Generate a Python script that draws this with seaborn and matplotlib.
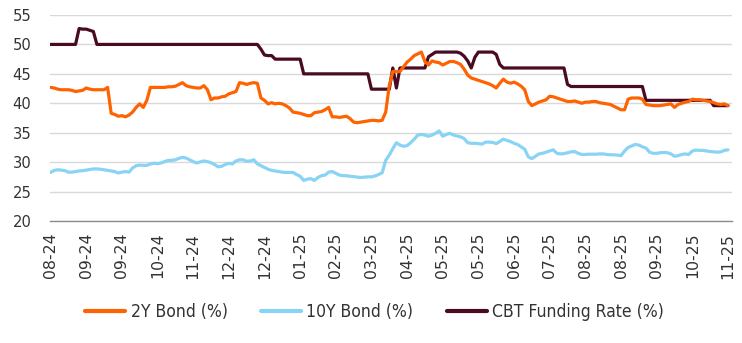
import numpy as np
import pandas as pd
import matplotlib
matplotlib.use("Agg")
import matplotlib.pyplot as plt
from matplotlib import font_manager
import seaborn as sns

# ---------------- data ----------------
tick_labels = ["08-24", "09-24", "09-24", "10-24", "11-24", "12-24", "12-24",
               "01-25", "02-25", "03-25", "04-25", "05-25", "05-25", "06-25",
               "07-25", "08-25", "08-25", "09-25", "10-25", "11-25"]
points_per_tick = 10

bond_2y = [
    42.7, 42.6, 42.4, 42.3, 42.3, 42.3, 42.2, 42.0, 42.1, 42.2,
    42.6, 42.4, 42.3, 42.3, 42.3, 42.3, 42.7, 38.3, 38.1, 37.8,
    37.9, 37.7, 38.0, 38.5, 39.3, 39.9, 39.3, 40.5, 42.7, 42.7,
    42.7, 42.7, 42.7, 42.8, 42.8, 42.9, 43.2, 43.5, 43.0, 42.8,
    42.7, 42.6, 42.6, 43.0, 42.3, 40.6, 40.9, 40.9, 41.1, 41.2,
    41.6, 41.8, 42.0, 43.5, 43.4, 43.2, 43.4, 43.5, 43.4, 40.9,
    40.5, 39.9, 40.1, 39.9, 40.0, 39.9, 39.6, 39.2, 38.5, 38.4,
    38.3, 38.1, 37.9, 37.9, 38.4, 38.5, 38.6, 38.9, 39.3, 37.7,
    37.7, 37.6, 37.7, 37.8, 37.4, 36.8, 36.7, 36.8, 36.9, 37.0,
    37.1, 37.1, 37.0, 37.1, 38.5, 43.0, 45.4, 45.4, 45.4, 46.2,
    47.0, 47.5, 48.1, 48.4, 48.7, 47.1, 46.5, 47.2, 47.0, 46.9,
    46.5, 46.8, 47.1, 47.1, 46.9, 46.6, 45.8, 44.8, 44.3, 44.1,
    43.9, 43.7, 43.5, 43.3, 43.0, 42.6, 43.4, 44.1, 43.6, 43.4,
    43.6, 43.3, 42.9, 42.3, 40.3, 39.6, 39.9, 40.2, 40.4, 40.6,
    41.2, 41.1, 40.9, 40.7, 40.5, 40.3, 40.3, 40.4, 40.2, 40.0,
    40.2, 40.2, 40.3, 40.3, 40.1, 40.0, 39.9, 39.8, 39.5, 39.2,
    38.9, 38.9, 40.7, 40.9, 40.9, 40.9, 40.7, 39.8, 39.7, 39.6,
    39.6, 39.6, 39.7, 39.8, 39.9, 39.3, 39.8, 40.0, 40.2, 40.3,
    40.7, 40.6, 40.6, 40.5, 40.4, 40.3, 40.1, 39.9, 39.8, 39.9,
    39.6,
]

bond_10y = [
    28.25, 28.6, 28.7, 28.65, 28.55, 28.3, 28.3, 28.4, 28.5, 28.55,
    28.65, 28.75, 28.85, 28.85, 28.8, 28.7, 28.6, 28.5, 28.4, 28.15,
    28.3, 28.4, 28.3, 29.0, 29.4, 29.5, 29.45, 29.45, 29.7, 29.8,
    29.75, 29.85, 30.1, 30.3, 30.3, 30.4, 30.65, 30.8, 30.7, 30.4,
    30.1, 29.85, 30.05, 30.2, 30.1, 29.9, 29.6, 29.2, 29.3, 29.6,
    29.8, 29.7, 30.2, 30.4, 30.4, 30.15, 30.2, 30.4, 29.7, 29.4,
    29.1, 28.8, 28.6, 28.5, 28.4, 28.3, 28.25, 28.25, 28.25, 27.9,
    27.6, 26.9, 27.1, 27.2, 26.9, 27.4, 27.7, 27.8, 28.3, 28.4,
    28.1, 27.8, 27.7, 27.7, 27.6, 27.55, 27.45, 27.4, 27.45, 27.5,
    27.5, 27.65, 27.9, 28.2, 30.3, 31.2, 32.3, 33.3, 32.9, 32.7,
    32.8, 33.3, 33.9, 34.6, 34.7, 34.6, 34.4, 34.6, 34.9, 35.3,
    34.4, 34.7, 34.9, 34.6, 34.45, 34.3, 34.0, 33.3, 33.2, 33.2,
    33.15, 33.05, 33.4, 33.4, 33.35, 33.15, 33.5, 33.9, 33.7, 33.5,
    33.2, 33.0, 32.6, 32.2, 30.9, 30.6, 31.0, 31.4, 31.5, 31.7,
    31.9, 32.1, 31.5, 31.4, 31.45, 31.6, 31.75, 31.8, 31.5, 31.3,
    31.3, 31.35, 31.35, 31.35, 31.4, 31.4, 31.3, 31.25, 31.25, 31.2,
    31.1, 31.9, 32.5, 32.75, 33.0, 32.9, 32.6, 32.4, 31.7, 31.5,
    31.5, 31.6, 31.65, 31.6, 31.4, 31.0, 31.1, 31.3, 31.4, 31.3,
    31.9, 32.05, 32.0, 32.0, 31.9, 31.8, 31.75, 31.7, 31.75, 32.0,
    32.1,
]

cbt_rate = [
    50.0, 50.0, 50.0, 50.0, 50.0, 50.0, 50.0, 50.0, 52.7, 52.6,
    52.6, 52.4, 52.2, 50.0, 50.0, 50.0, 50.0, 50.0, 50.0, 50.0,
    50.0, 50.0, 50.0, 50.0, 50.0, 50.0, 50.0, 50.0, 50.0, 50.0,
    50.0, 50.0, 50.0, 50.0, 50.0, 50.0, 50.0, 50.0, 50.0, 50.0,
    50.0, 50.0, 50.0, 50.0, 50.0, 50.0, 50.0, 50.0, 50.0, 50.0,
    50.0, 50.0, 50.0, 50.0, 50.0, 50.0, 50.0, 50.0, 50.0, 49.2,
    48.2, 48.1, 48.1, 47.5, 47.5, 47.5, 47.5, 47.5, 47.5, 47.5,
    47.5, 45.0, 45.0, 45.0, 45.0, 45.0, 45.0, 45.0, 45.0, 45.0,
    45.0, 45.0, 45.0, 45.0, 45.0, 45.0, 45.0, 45.0, 45.0, 45.0,
    42.4, 42.4, 42.4, 42.4, 42.4, 42.4, 46.0, 42.6, 46.0, 46.0,
    46.0, 46.0, 46.0, 46.0, 46.0, 46.0, 47.9, 48.3, 48.7, 48.7,
    48.7, 48.7, 48.7, 48.7, 48.7, 48.5, 48.0, 47.2, 46.0, 47.8,
    48.7, 48.7, 48.7, 48.7, 48.7, 48.3, 46.6, 46.0, 46.0, 46.0,
    46.0, 46.0, 46.0, 46.0, 46.0, 46.0, 46.0, 46.0, 46.0, 46.0,
    46.0, 46.0, 46.0, 46.0, 46.0, 43.2, 42.85, 42.85, 42.85, 42.85,
    42.85, 42.85, 42.85, 42.85, 42.85, 42.85, 42.85, 42.85, 42.85, 42.85,
    42.85, 42.85, 42.85, 42.85, 42.85, 42.85, 42.85, 40.5, 40.5, 40.5,
    40.5, 40.5, 40.5, 40.5, 40.5, 40.5, 40.5, 40.5, 40.5, 40.5,
    40.5, 40.5, 40.5, 40.5, 40.5, 40.5, 39.6, 39.6, 39.6, 39.6,
    39.6,
]

series_names = ["2Y Bond (%)", "10Y Bond (%)", "CBT Funding Rate (%)"]
y_ticks = [20, 25, 30, 35, 40, 45, 50, 55]

# ---------------- styling ----------------
colors = {"2Y Bond (%)": "#FF6200",
          "10Y Bond (%)": "#89D3F5",
          "CBT Funding Rate (%)": "#4A0A22"}

sns.set_style("white")
plt.rcParams["font.family"] = ["DejaVu Sans"]

# look for a condensed family for the legend (the original uses a narrow font)
condensed = None
for f in font_manager.fontManager.ttflist:
    if f.name == "DejaVu Sans" and f.stretch == "condensed" and f.style == "normal" and f.weight in (400, "normal"):
        condensed = f.fname
        break
if condensed:
    legend_prop = font_manager.FontProperties(fname=condensed, size=12.6)
else:
    legend_prop = font_manager.FontProperties(family="DejaVu Sans", size=11.4)

df = pd.DataFrame({
    "idx": np.arange(len(bond_2y)),
    "2Y Bond (%)": bond_2y,
    "10Y Bond (%)": bond_10y,
    "CBT Funding Rate (%)": cbt_rate,
})
long = df.melt(id_vars="idx", var_name="series", value_name="value")

W, H = 742, 343
fig = plt.figure(figsize=(W / 100, H / 100), dpi=100)
ax = fig.add_axes([49.5 / W, (H - 221) / H, (731.7 - 49.5) / W, (221 - 15) / H])

zorders = {"CBT Funding Rate (%)": 3, "2Y Bond (%)": 4, "10Y Bond (%)": 4}
for name in ["CBT Funding Rate (%)", "10Y Bond (%)", "2Y Bond (%)"]:
    sns.lineplot(data=long[long["series"] == name], x="idx", y="value",
                 color=colors[name], linewidth=2.3, ax=ax, label=name,
                 zorder=zorders[name])

ax.set_xlim(-0.3, 191.05)
ax.set_ylim(20, 55)
ax.set_yticks(y_ticks)
ax.set_yticklabels([str(v) for v in y_ticks], fontsize=10.6, color="#333333")
tick_pos = np.arange(len(tick_labels)) * points_per_tick
ax.set_xticks(tick_pos)
ax.set_xticklabels(tick_labels, rotation=90, fontsize=11.3, color="#333333")
ax.set_xlabel("")
ax.set_ylabel("")

ax.grid(axis="y", color="#d9d9d9", linewidth=1.0, zorder=0)
ax.grid(axis="x", visible=False)
for s in ["left", "right", "top"]:
    ax.spines[s].set_visible(False)
ax.spines["bottom"].set_color("#8c8c8c")
ax.spines["bottom"].set_linewidth(1.0)
ax.tick_params(axis="y", length=0, pad=13)
ax.tick_params(axis="x", length=5, width=0.9, color="#8c8c8c", direction="out", pad=3.5)

handles, labels = ax.get_legend_handles_labels()
hmap = dict(zip(labels, handles))
leg = ax.legend([hmap[n] for n in series_names], series_names,
                loc="center", bbox_to_anchor=(374.5 / W, (H - 311.7) / H),
                bbox_transform=fig.transFigure, ncol=3, frameon=False,
                prop=legend_prop,
                handlelength=2.3, handletextpad=0.3, columnspacing=1.9)
for line in leg.get_lines():
    line.set_linewidth(3.0)
for t in leg.get_texts():
    t.set_color("#333333")

fig.savefig("out.png", dpi=100)
